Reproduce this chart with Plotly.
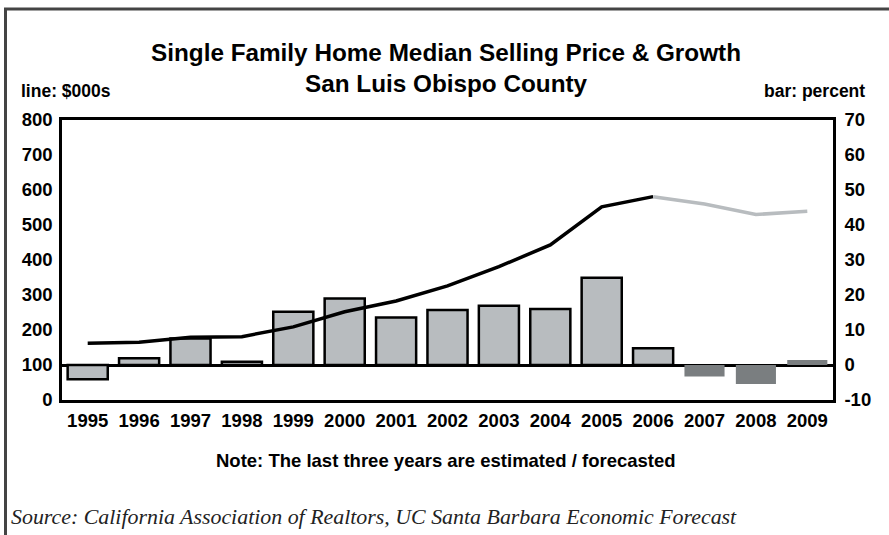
import plotly.graph_objects as go

years = [str(y) for y in range(1995, 2010)]
price_actual_years = years[:12]          # 1995-2006
price_actual = [162, 165, 179, 181, 209, 252, 283, 326, 381, 443, 552, 581]
price_fcst_years = years[11:]            # 2006-2009
price_fcst = [581, 560, 530, 539]
growth = [-4.1, 1.9, 7.6, 0.9, 15.2, 19.0, 13.6, 15.7, 16.9, 16.0, 24.9, 4.8, -3.3, -5.4, 1.4]
pct_ticks = [-10, 0, 10, 20, 30, 40, 50, 60, 70]
pct_tick_labels = ["-10", "0", "10", "20", "30", "40", "50", "60", "70"]

light = "#b8bcbf"
dark = "#7a7e80"
bar_colors = [light] * 12 + [dark] * 3
bar_line_w = [2.5] * 12 + [0] * 3

L, R, T, B = 62, 56, 120, 135
W, H = 889, 535
PW, PH = W - L - R, H - T - B


def px(X):
    return (X - L) / PW


def py(Y):
    return (T + PH - Y) / PH


SANS = "Liberation Sans, Arial, sans-serif"

fig = go.Figure()
fig.add_trace(go.Bar(x=years, y=growth, marker=dict(color=bar_colors,
                     line=dict(color="black", width=bar_line_w)),
                     width=0.78, yaxis="y", showlegend=False))
fig.add_trace(go.Scatter(x=price_actual_years, y=price_actual, mode="lines",
                         line=dict(color="black", width=3.5), yaxis="y2", showlegend=False))
fig.add_trace(go.Scatter(x=price_fcst_years, y=price_fcst, mode="lines",
                         line=dict(color=light, width=3.5), yaxis="y2", showlegend=False))

tickf = dict(size=18.5, family=SANS, weight="bold", color="black")

fig.update_layout(
    width=W, height=H,
    margin=dict(l=L, r=R, t=T, b=B),
    paper_bgcolor="white", plot_bgcolor="white",
    font=dict(family=SANS, size=16, color="black"),
    xaxis=dict(type="category", showline=True, linecolor="black", linewidth=2.5, mirror=True,
               ticks="", showgrid=False, tickfont=tickf, ticklabelstandoff=2),
    yaxis=dict(side="right", range=[-10, 70], tickvals=pct_ticks, ticktext=pct_tick_labels,
               showgrid=False, showline=True,
               linecolor="black", linewidth=2.5, ticks="", zeroline=True, zerolinecolor="black",
               zerolinewidth=2.5, ticklabelstandoff=5, tickfont=tickf),
    yaxis2=dict(side="left", overlaying="y", range=[0, 800], dtick=100, showgrid=False,
                showline=True, linecolor="black", linewidth=2.5, ticks="", zeroline=False,
                ticklabelstandoff=3, tickfont=tickf),
)

ann = [
    dict(text="<b>Single Family Home Median Selling Price & Growth</b>", x=px(446), y=py(52), size=24.3, xanchor="center"),
    dict(text="<b>San Luis Obispo County</b>", x=px(446), y=py(83), size=24.3, xanchor="center"),
    dict(text="<b>line: $000s</b>", x=px(19), y=py(91), size=17.5, xanchor="left"),
    dict(text="<b>bar: percent</b>", x=px(867), y=py(91), size=17.5, xanchor="right"),
    dict(text="<b>Note: The last three years are estimated / forecasted</b>", x=px(446), y=py(460), size=18.5, xanchor="center"),
]
for a in ann:
    fig.add_annotation(text=a["text"], x=a["x"], y=a["y"], xref="paper", yref="paper",
                       xanchor=a["xanchor"], yanchor="middle", showarrow=False,
                       font=dict(size=a["size"], family=SANS, color="black"))

fig.add_annotation(text="<i>Source: California Association of Realtors, UC Santa Barbara Economic Forecast</i>",
                   x=px(9), y=py(516), xref="paper", yref="paper", xanchor="left", yanchor="middle",
                   showarrow=False,
                   font=dict(size=21.9, family="Liberation Serif, Times New Roman, serif", color="#222"))

# outer frame (top and left edges)
fig.add_shape(type="line", xref="paper", yref="paper", x0=px(4), x1=px(892), y0=py(9), y1=py(9),
              line=dict(color="#444", width=3))
fig.add_shape(type="line", xref="paper", yref="paper", x0=px(5.5), x1=px(5.5), y0=py(9), y1=py(540),
              line=dict(color="#444", width=3))

fig.write_html("out.html", config={"displayModeBar": False},
               post_script="document.body.style.margin='0';")
